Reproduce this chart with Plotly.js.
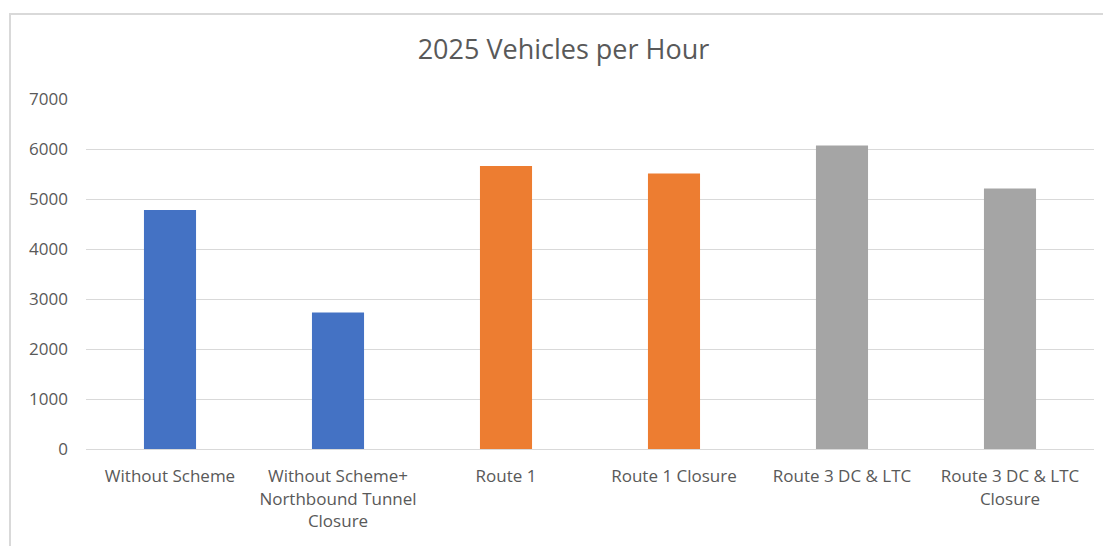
<!DOCTYPE html>
<html>
<head>
<meta charset="utf-8">
<script src="https://cdn.plot.ly/plotly-3.0.1.min.js"></script>
<style>
  html, body { margin: 0; padding: 0; background: #ffffff; overflow: hidden; }
  #wrap { position: relative; width: 1103px; height: 546px; }
  #frame { position: absolute; left: 9px; top: 13px; width: 1200px; height: 700px;
           border: 2px solid #d9d9d9; box-sizing: border-box; pointer-events: none; }
  #chart { position: absolute; left: 0; top: 0; width: 1103px; height: 546px; }
</style>
</head>
<body>
<div id="wrap">
  <div id="chart"></div>
  <div id="frame"></div>
</div>
<script>
// Data
const categories = [
  "Without Scheme",
  "Without Scheme+<br>Northbound Tunnel<br>Closure",
  "Route 1",
  "Route 1 Closure",
  "Route 3 DC &amp; LTC",
  "Route 3 DC &amp; LTC<br>Closure"
];
const vehiclesPerHour = [4780, 2730, 5660, 5510, 6070, 5210];
const yTickValues = [0, 1000, 2000, 3000, 4000, 5000, 6000, 7000];
const titleText = "2025 Vehicles per Hour";

// Styles
const barColors = ["#4472C4", "#4472C4", "#ED7D31", "#ED7D31", "#A5A5A5", "#A5A5A5"];
const textColor = "#595959";
const gridColor = "#d9d9d9";
const fontFamily = "'Open Sans', 'Liberation Sans', sans-serif";

const trace = {
  type: "bar",
  x: categories,
  y: vehiclesPerHour,
  marker: { color: barColors, line: { width: 0 } },
  hoverinfo: "x+y"
};

const layout = {
  width: 1103,
  height: 546,
  paper_bgcolor: "rgba(0,0,0,0)",
  plot_bgcolor: "rgba(0,0,0,0)",
  margin: { l: 86, r: 9, t: 99, b: 97 },
  bargap: 0.69,
  showlegend: false,
  title: {
    text: titleText,
    font: { family: fontFamily, size: 27, color: textColor },
    xref: "container", x: 563.5 / 1103, xanchor: "center",
    yref: "container", y: 1 - 50 / 546, yanchor: "middle"
  },
  font: { family: fontFamily, color: textColor },
  xaxis: {
    type: "category",
    showgrid: false,
    showline: true,
    linecolor: gridColor,
    linewidth: 1,
    ticks: "",
    ticklabelstandoff: 12,
    tickfont: { family: fontFamily, size: 17, color: textColor },
    tickangle: 0,
    automargin: false
  },
  yaxis: {
    range: [0, 7000],
    tickvals: yTickValues,
    ticktext: yTickValues.map(String),
    showgrid: true,
    gridcolor: gridColor,
    gridwidth: 1,
    zeroline: false,
    showline: false,
    ticks: "",
    ticklabelstandoff: 17,
    tickfont: { family: fontFamily, size: 17, color: textColor },
    automargin: false
  }
};

Plotly.newPlot("chart", [trace], layout, { displayModeBar: false, staticPlot: true });
</script>
</body>
</html>
